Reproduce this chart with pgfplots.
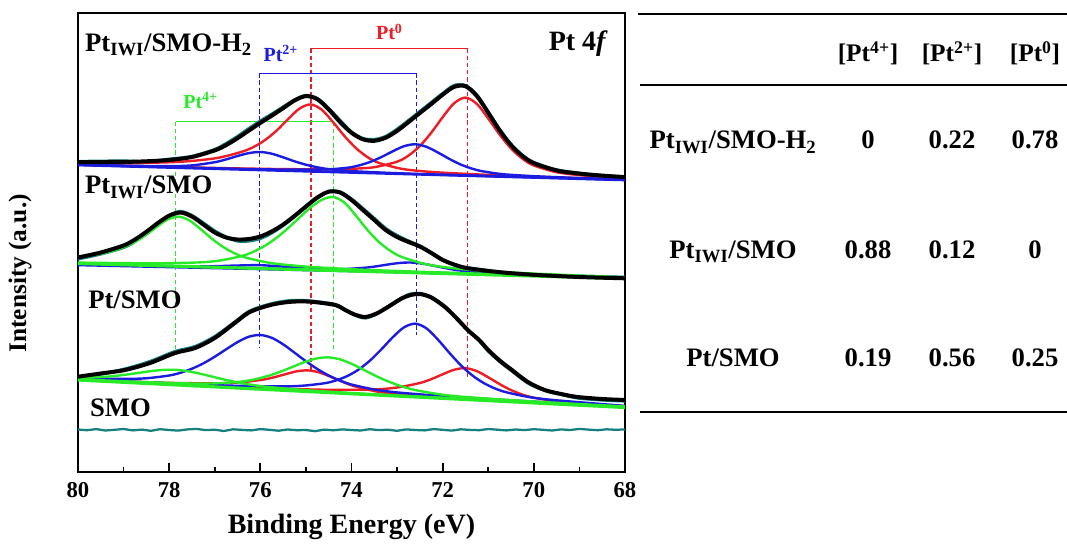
\documentclass[border=0pt]{standalone}
\usepackage{fontspec}
\setmainfont{Liberation Serif}
\usepackage{pgfplots}
\pgfplotsset{compat=1.18}
\definecolor{pred}{RGB}{238,28,36}
\definecolor{pblue}{RGB}{28,28,225}
\definecolor{pgreen}{RGB}{40,235,40}
\definecolor{pteal}{RGB}{22,128,128}
\tikzset{comp/.style={smooth, line width=1.8pt},
  env/.style={smooth, line width=3pt, black},
  dat/.style={smooth, line width=2.4pt, pteal},
  dsh/.style={line width=0.9pt, dash pattern=on 3.2pt off 2.2pt}}
\begin{document}
\begin{tikzpicture}
\useasboundingbox (-58.5pt,-53.25pt) rectangle (741.75pt,354pt);
\begin{axis}[
  at={(0,0)}, anchor=south west,
  width=410.25pt, height=344.25pt, scale only axis,
  xmin=68, xmax=80, x dir=reverse,
  ymin=0, ymax=459,
  xtick={68,70,...,80}, minor xtick={69,71,...,79},
  ytick=\empty, xtick pos=left,
  tick align=inside,
  major tick length=6.75pt, minor tick length=3.75pt,
  every tick/.style={line width=1.3pt, black},
  axis line style={line width=1.5pt},
  xticklabel style={font=\bfseries\fontsize{17}{17}\selectfont, yshift=-4.5pt},
  /pgf/number format/assume math mode=true,
  no marks,
]
% ---- bracket / dashed guides ----
\draw[pred, line width=0.9pt] (axis cs:74.89,423.5) -- (axis cs:71.45,423.5);
\draw[pred, dsh] (axis cs:74.89,423.5) -- (axis cs:74.89,102);
\draw[pred, dsh] (axis cs:71.45,423.5) -- (axis cs:71.45,95);
\draw[pblue, line width=0.9pt] (axis cs:76.02,398.7) -- (axis cs:72.57,398.7);
\draw[pblue, dsh] (axis cs:76.02,398.7) -- (axis cs:76.02,125);
\draw[pblue, dsh] (axis cs:72.57,398.7) -- (axis cs:72.57,137);
\draw[pgreen, line width=1pt] (axis cs:77.86,350.3) -- (axis cs:74.39,350.3);
\draw[pgreen, dsh, line width=1pt] (axis cs:77.86,350.3) -- (axis cs:77.86,117);
\draw[pgreen, dsh, line width=1pt] (axis cs:74.39,350.3) -- (axis cs:74.39,120);

% ================= Panel 1 : Pt_IWI/SMO-H2 =================
\addplot[dat] coordinates {(80,310.5)(79,311.0)(78.5,310.2)(78,312.8)(77.5,315.6)(77,322.5)(76.75,328.5)(76.5,335.5)(76.25,343.5)(76,351)(75.75,357.8)(75.5,365)(75.25,372)(75,376.5)(74.75,373.5)(74.5,363.5)(74.25,351.5)(74,340)(73.75,333.5)(73.5,332.5)(73.25,335.5)(73,342.8)(72.75,351.5)(72.5,360.5)(72.25,369.5)(72,378.5)(71.75,386.5)(71.5,386.5)(71.25,377)(71,360)(70.75,342.5)(70.5,327.5)(70.25,316.5)(70,309.5)(69.5,302)(69,298.8)(68.5,296.0)(68,295.3)};
\addplot[comp, pred] coordinates {(68,292.4)(69.9,295.2)(70.9,296.9)(71.9,299.1)(72.4,300.6)(72.9,303.2)(73.4,309.1)(73.65,314.9)(73.9,323.8)(74.15,335.7)(74.4,349.6)(74.65,362.2)(74.9,367.6)(75.15,363.1)(75.4,352.4)(75.65,341.1)(75.9,331.8)(76.15,325.0)(76.4,320.3)(76.9,314.4)(77.4,311.5)(77.9,309.9)(78.9,308.8)(80,309.0)};
\addplot[comp, pred] coordinates {(68,293.95)(68.5,295.2)(69,296.9)(69.5,299.8)(70,306.5)(70.25,313.3)(70.5,323.5)(70.75,337.4)(71,353.5)(71.25,368.1)(71.5,374.4)(71.75,368.7)(72,354.8)(72.25,339.3)(72.5,326.0)(72.75,316.4)(73,310.3)(73.5,304.8)(74,303.2)(74.5,302.7)(75.5,302.9)(76.5,303.6)(77.5,304.6)(80,307.35)};
\addplot[comp, pblue] coordinates {(68,292.1)(70,294.7)(72,297.3)(73,298.8)(74,300.9)(74.5,302.9)(74.75,304.7)(75,307.3)(75.25,310.7)(75.5,314.7)(75.75,318.3)(76,320)(76.25,318.9)(76.5,316.0)(76.75,312.6)(77,309.8)(77.5,306.6)(78,305.9)(79,306.3)(80,307.3)};
\addplot[comp, pblue] coordinates {(68,292.45)(69.6,295.0)(70.6,297.5)(71.1,300.5)(71.35,303.3)(71.6,307.4)(71.85,313.0)(72.1,319.4)(72.35,325.1)(72.6,327.75)(72.85,325.75)(73.1,320.6)(73.35,314.8)(73.6,309.9)(73.85,306.4)(74.1,304.2)(74.6,302.5)(75.6,302.5)(76.6,303.3)(77.6,304.4)(80,307.2)};
\addplot[line width=2pt, pblue] coordinates {(68,292)(80,307)};
\addplot[env] coordinates {(80,309.9)(79,310.1)(78.5,310.7)(78,312.05)(77.5,315.0)(77,321.6)(76.75,326.9)(76.5,333.8)(76.25,341.5)(76,349.1)(75.75,356.3)(75.5,363.8)(75.25,371.5)(75,375.9)(74.75,372.8)(74.5,362.6)(74.25,349.9)(74,339.2)(73.75,332.7)(73.5,331.2)(73.25,334.3)(73,341.1)(72.75,349.9)(72.5,359.0)(72.25,368.0)(72,377.3)(71.75,385.1)(71.5,385.8)(71.25,376.0)(71,359.15)(70.75,341.6)(70.5,326.9)(70.25,316.1)(70,308.85)(69.5,301.6)(69,298.4)(68.5,296.4)(68,294.9)};

% ================= Panel 2 : Pt_IWI/SMO =================
\addplot[dat] coordinates {(80,213)(79.5,218)(79,224.5)(78.75,230.5)(78.5,238.5)(78.25,248)(78,256.5)(77.75,260.5)(77.5,256.5)(77.25,249)(77,241)(76.75,235)(76.5,231)(76.25,231)(76,233.5)(75.75,239)(75.5,246.5)(75.25,255.5)(75,265)(74.75,274)(74.5,280.5)(74.25,280)(74,273)(73.75,263.5)(73.5,253.5)(73.25,243.5)(73,236.5)(72.75,231)(72.5,226)(72.25,219.5)(72,212.5)(71.75,207)(71.5,204.5)(71,201.5)(70.5,198.5)(70,197)(69.5,196.5)(69,195.2)(68.5,194.6)(68,194)};
\addplot[comp, pblue] coordinates {(68,194)(70,196.4)(72,198.7)(74,201.3)(74.5,202.1)(75,203.4)(75.5,205.35)(76,206.8)(76.5,206.5)(77,205.8)(77.5,205.6)(78,205.9)(80,208.1)};
\addplot[comp, pblue] coordinates {(68,194.1)(69.7,196.3)(70.7,197.9)(71.2,199.3)(71.7,202.0)(71.95,204.0)(72.2,206.3)(72.45,208.4)(72.7,209.5)(72.95,209.0)(73.2,207.5)(73.45,205.7)(73.7,204.3)(74.2,202.8)(74.7,202.6)(75.7,203.3)(78,205.7)(80,208.1)};
\addplot[line width=2pt, pblue] coordinates {(68,195)(80,207)};
\addplot[comp, pgreen] coordinates {(68,194.3)(69.8,196.5)(71.8,199.2)(72.8,200.7)(73.8,202.4)(74.8,204.8)(75.3,206.6)(75.8,209.2)(76.3,214.2)(76.55,218.4)(76.8,224.6)(77.05,232.8)(77.3,242.5)(77.55,251.4)(77.8,255.4)(78.05,252.1)(78.3,244.2)(78.55,235.8)(78.8,228.95)(79.05,223.9)(79.3,220.4)(79.55,217.9)(80,215.2)};
\addplot[comp, pgreen] coordinates {(68,194.9)(69.4,197.2)(70.4,199.3)(71.4,202.2)(71.9,204.5)(72.4,208.1)(72.9,215.1)(73.15,221.25)(73.4,230.1)(73.65,242.0)(73.9,256.2)(74.15,269.2)(74.4,275.0)(74.65,272.2)(74.9,264.4)(75.15,254.1)(75.4,243.5)(75.65,234.0)(75.9,226.2)(76.15,220.3)(76.4,216.1)(76.9,211.4)(77.4,209.5)(78.4,208.7)(80,209.4)};
\addplot[line width=2.4pt, pgreen] coordinates {(68,193.5)(80,208.5)};
\addplot[env] coordinates {(80,214.5)(79.5,219.5)(79,226.5)(78.75,232.5)(78.5,240.2)(78.25,248.9)(78,256.3)(77.75,259.5)(77.5,255.5)(77.25,247.5)(77,239.5)(76.75,234.5)(76.5,232.5)(76.25,233.0)(76,235.5)(75.75,240.5)(75.5,247.4)(75.25,256.1)(75,265.5)(74.75,274.5)(74.5,280.3)(74.25,279.5)(74,272)(73.75,262)(73.5,252)(73.25,242)(73,235)(72.75,230)(72.5,225.5)(72.25,219)(72,212)(71.75,207.5)(71.5,204.2)(71,201)(70.5,198.8)(70,197.2)(69.5,196)(69,195)(68.5,194.3)(68,193.7)};

% ================= Panel 3 : Pt/SMO =================
\addplot[dat] coordinates {(80,95)(79.5,98)(78.97,103)(78.42,110.5)(77.87,120.5)(77.43,125.5)(77,135.5)(76.56,150)(76.27,160)(76,165)(75.68,169)(75.31,171.5)(74.9,171)(74.36,167.5)(74.14,162.5)(73.93,157)(73.7,154)(73.45,158)(73.2,165.5)(72.9,174)(72.7,178)(72.5,178.5)(72.25,175)(71.95,165.5)(71.7,154.5)(71.45,142)(71.2,131.5)(71,121)(70.75,110.5)(70.48,101)(70.13,89)(69.76,81.5)(69.4,77.5)(69.04,74)(68.5,72)(68,71)};
\addplot[comp, pred] coordinates {(68,65.1)(70.95,72.0)(71.95,74.6)(72.95,77.7)(73.45,80.5)(73.95,86.0)(74.2,90.25)(74.45,95.1)(74.7,99.5)(74.95,101.6)(75.2,100.7)(75.45,97.8)(75.7,94.7)(75.95,92.3)(76.45,89.6)(76.95,88.7)(77.95,89.1)(78.95,90.65)(80,92.65)};
\addplot[comp, pred] coordinates {(68,65.8)(68.5,67.1)(69,68.7)(69.5,70.7)(70,74.3)(70.25,77.4)(70.5,81.9)(70.75,87.9)(71,94.7)(71.25,100.9)(71.5,103.9)(71.75,102.2)(72,97.7)(72.25,92.85)(72.5,89.0)(73,84.5)(73.5,82.6)(74.5,82.2)(75.5,83.4)(77.5,87.1)(80,92.35)};
\addplot[comp, pblue] coordinates {(68,65.5)(70,70.4)(71,73.0)(72,75.9)(73,79.6)(73.5,82.5)(74,87.5)(74.25,91.4)(74.5,96.5)(74.75,103.0)(75,110.8)(75.25,119.3)(75.5,127.7)(75.75,134.2)(76,137)(76.25,135.3)(76.5,129.9)(76.75,122.7)(77,115.3)(77.25,108.65)(77.5,103.3)(77.75,99.25)(78,96.5)(78.5,93.75)(79,93.1)(80,93.9)};
\addplot[comp, pblue] coordinates {(68,66.1)(68.6,68.3)(69.6,72.1)(70.1,74.9)(70.6,79.7)(70.85,83.5)(71.1,89.0)(71.35,96.6)(71.6,106.7)(71.85,119.0)(72.1,132.2)(72.35,143.45)(72.6,148.35)(72.85,144.6)(73.1,134.5)(73.35,122.4)(73.6,111.2)(73.85,102.25)(74.1,95.8)(74.35,91.4)(74.6,88.7)(75.1,86.2)(75.6,85.6)(76.6,86.3)(77.6,87.9)(80,92.65)};
\addplot[comp, pgreen] coordinates {(68,65.1)(71.87,73.95)(73.87,78.7)(74.87,81.4)(75.87,85.2)(76.37,88.5)(76.62,90.75)(76.87,93.3)(77.12,96.1)(77.37,98.8)(77.62,101.0)(77.87,102.2)(78.12,102.1)(78.37,101.05)(78.62,99.45)(78.87,97.8)(79.12,96.4)(79.37,95.3)(79.87,94.2)(80,94.2)};
\addplot[comp, pgreen] coordinates {(68,65.5)(69.5,69.2)(70.5,71.9)(71.5,75.0)(72,77.3)(72.5,81.0)(72.75,83.7)(73,87.2)(73.25,91.6)(73.5,96.8)(73.75,102.6)(74,108.2)(74.25,112.6)(74.5,114.6)(74.75,113.7)(75,110.4)(75.25,105.95)(75.5,101.3)(75.75,97.2)(76,94.0)(76.25,91.5)(76.5,90.0)(77,88.6)(77.5,88.5)(78.5,89.85)(80,92.7)};
\addplot[line width=2.4pt, pgreen] coordinates {(68,64.5)(80,92)};
\addplot[env] coordinates {(80,95.3)(79.5,98.5)(78.97,102)(78.42,109)(77.87,119)(77.43,124)(77,134)(76.56,149)(76.27,159)(76,164)(75.68,168)(75.31,170.3)(74.9,170.3)(74.36,167)(74.14,162)(73.93,157.5)(73.7,155)(73.45,158.5)(73.2,165)(72.9,173.5)(72.7,177)(72.5,178)(72.25,174.5)(71.95,165)(71.7,154)(71.45,142)(71.2,132)(71,122)(70.75,111.5)(70.48,102)(70.13,90)(69.76,82)(69.4,78)(69.04,75)(68.5,73)(68,72)};

% ================= SMO =================
\addplot[line width=1.7pt, pteal] coordinates {(80,42.5)(79.8,41.8)(79.6,42.9)(79.4,41.5)(79.2,42.2)(79,43.0)(78.8,41.6)(78.6,42.4)(78.4,41.2)(78.2,42.8)(78,42.0)(77.8,41.4)(77.6,42.6)(77.4,43.1)(77.2,41.9)(77,42.3)(76.8,41.0)(76.6,42.7)(76.4,42.1)(76.2,41.6)(76,42.9)(75.8,42.2)(75.6,41.3)(75.4,42.5)(75.2,41.8)(75,42.0)(74.8,40.8)(74.6,42.4)(74.4,41.7)(74.2,42.6)(74,42.0)(73.8,41.5)(73.6,42.8)(73.4,41.9)(73.2,42.3)(73,41.2)(72.8,42.6)(72.6,42.0)(72.4,41.6)(72.2,42.9)(72,42.2)(71.8,41.4)(71.6,42.7)(71.4,42.1)(71.2,41.8)(71,43.0)(70.8,42.3)(70.6,41.6)(70.4,42.5)(70.2,41.9)(70,42.8)(69.8,42.2)(69.6,41.5)(69.4,42.6)(69.2,42.0)(69,43.1)(68.8,42.4)(68.6,41.8)(68.4,42.7)(68.2,42.2)(68,42.6)};

% ---- labels inside ----
\node[anchor=base west, font=\bfseries\fontsize{20}{20}\selectfont, inner sep=0pt] at (axis cs:79.85,420.3) {Pt\textsubscript{IWI}/SMO-H\textsubscript{2}};
\node[anchor=base west, font=\bfseries\fontsize{20}{20}\selectfont, inner sep=0pt] at (axis cs:79.85,278) {Pt\textsubscript{IWI}/SMO};
\node[anchor=base west, font=\bfseries\fontsize{20}{20}\selectfont, inner sep=0pt] at (axis cs:79.78,163.7) {Pt/SMO};
\node[anchor=base west, font=\bfseries\fontsize{20}{20}\selectfont, inner sep=0pt] at (axis cs:79.74,55.3) {SMO};
\node[anchor=base east, font=\bfseries\fontsize{21}{21}\selectfont, inner sep=0pt] at (axis cs:68.37,421.3) {Pt 4\textit{f}};
\node[anchor=base, text=pred, font=\bfseries\fontsize{15}{15}\selectfont, inner sep=0pt] at (axis cs:73.17,432) {Pt\textsuperscript{0}};
\node[anchor=base, text=pblue, font=\bfseries\fontsize{15}{15}\selectfont, inner sep=0pt] at (axis cs:75.55,410.3) {Pt\textsuperscript{2+}};
\node[anchor=base, text=pgreen, font=\bfseries\fontsize{15}{15}\selectfont, inner sep=0pt] at (axis cs:77.31,363.7) {Pt\textsuperscript{4+}};
\end{axis}
% axis labels
\node[rotate=90, font=\bfseries\fontsize{19}{19}\selectfont] at (-43.5pt,149pt) {Intensity (a.u.)};
\node[font=\bfseries\fontsize{21}{21}\selectfont] at (205.1pt,-41.25pt) {Binding Energy (eV)};
% ---- table ----
\draw[line width=1.5pt] (420pt,343.5pt) -- (741.75pt,343.5pt);
\draw[line width=1.5pt] (421.5pt,290.25pt) -- (741.75pt,290.25pt);
\draw[line width=1.5pt] (421.5pt,45pt) -- (741.75pt,45pt);
\begin{scope}[every node/.style={anchor=base, inner sep=0pt, font=\bfseries\fontsize{19}{19}\selectfont}]
\node at (592.5pt,307.7pt) {[Pt\textsuperscript{4+}]};
\node at (655.5pt,307.7pt) {[Pt\textsuperscript{2+}]};
\node at (717.75pt,307.7pt) {[Pt\textsuperscript{0}]};
\end{scope}
\begin{scope}[every node/.style={anchor=base, inner sep=0pt, font=\bfseries\fontsize{20}{20}\selectfont}]
\node at (491.25pt,242.25pt) {Pt\textsubscript{IWI}/SMO-H\textsubscript{2}};
\node at (592.5pt,242.25pt) {0};
\node at (655.5pt,242.25pt) {0.22};
\node at (717.75pt,242.25pt) {0.78};
\node at (491.25pt,160.25pt) {Pt\textsubscript{IWI}/SMO};
\node at (592.5pt,160.25pt) {0.88};
\node at (655.5pt,160.25pt) {0.12};
\node at (717.75pt,160.25pt) {0};
\node at (491.25pt,79pt) {Pt/SMO};
\node at (592.5pt,79pt) {0.19};
\node at (655.5pt,79pt) {0.56};
\node at (717.75pt,79pt) {0.25};
\end{scope}
\end{tikzpicture}
\end{document}
